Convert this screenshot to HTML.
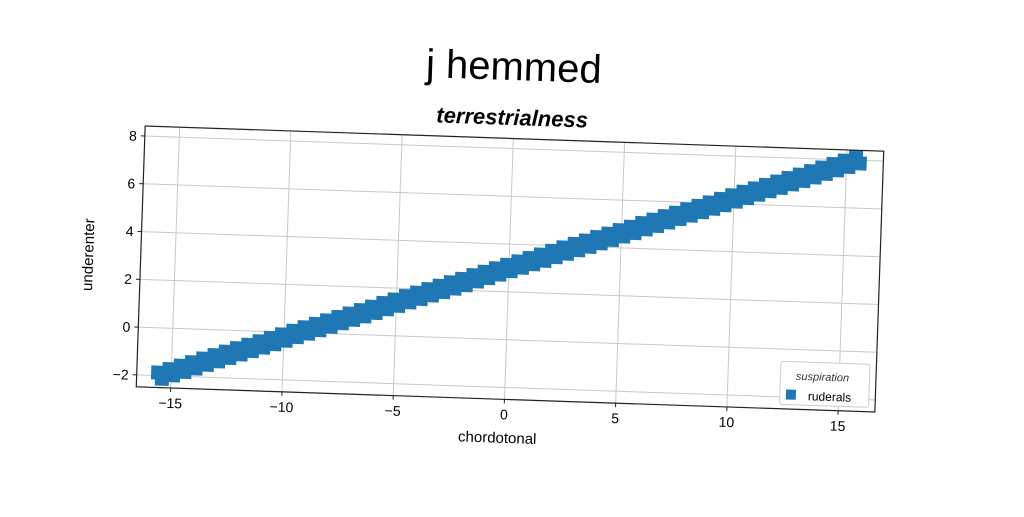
<!DOCTYPE html>
<html><head><meta charset="utf-8"><style>
body{margin:0;background:#fff;width:1024px;height:512px;overflow:hidden}
text{font-family:"Liberation Sans","DejaVu Sans",sans-serif}
</style></head><body>
<svg id="chart" width="1024" height="512" xmlns="http://www.w3.org/2000/svg">
<g id="rot" transform="rotate(1.95 510 269)">
<text x="507" y="80" text-anchor="middle" font-size="40" font-family="Liberation Mono, monospace">j hemmed</text>
<text x="507" y="125" text-anchor="middle" font-size="22" font-weight="bold" font-style="italic">terrestrialness</text>
<g id="grid"></g>
<g id="marks"></g>
<rect x="140.5" y="138.5" width="739" height="261" fill="none" stroke="#222" stroke-width="1.2"/>
<g id="ticks"></g>
<text x="503" y="443" text-anchor="middle" font-size="15">chordotonal</text>
<text transform="translate(93 269) rotate(-90)" text-anchor="middle" font-size="15">underenter</text>
<g>
<rect x="784" y="352" width="89" height="43" fill="#fff" stroke="#ccc" rx="2"/>
<text x="826" y="370" text-anchor="middle" font-size="11" font-style="italic" fill="#333">suspiration</text>
<rect x="790" y="380" width="10" height="10" fill="#1f77b4"/>
<text x="812" y="390" font-size="12">ruderals</text>
</g>
</g>
</svg>
<script>
const xTicks=[-15,-10,-5,0,5,10,15];
const yTicks=[-2,0,2,4,6,8];
const xs=[-15.5,-15,-14.5,-14,-13.5,-13,-12.5,-12,-11.5,-11,-10.5,-10,-9.5,-9,-8.5,-8,-7.5,-7,-6.5,-6,-5.5,-5,-4.5,-4,-3.5,-3,-2.5,-2,-1.5,-1,-0.5,0,0.5,1,1.5,2,2.5,3,3.5,4,4.5,5,5.5,6,6.5,7,7.5,8,8.5,9,9.5,10,10.5,11,11.5,12,12.5,13,13.5,14,14.5,15,15.5];
const ys=[-2.00,-1.84,-1.68,-1.52,-1.35,-1.19,-1.03,-0.87,-0.71,-0.55,-0.39,-0.23,-0.06,0.10,0.26,0.42,0.58,0.74,0.90,1.06,1.23,1.39,1.55,1.71,1.87,2.03,2.19,2.35,2.52,2.68,2.84,3.00,3.16,3.32,3.48,3.65,3.81,3.97,4.13,4.29,4.45,4.61,4.77,4.94,5.10,5.26,5.42,5.58,5.74,5.90,6.06,6.23,6.39,6.55,6.71,6.87,7.03,7.19,7.35,7.52,7.68,7.84,8.00];
const L=140.5,T=138.5,W=739,H=261,xmin=-16.55,xmax=16.65,ymin=-2.5,ymax=8.42;
const sx=v=>L+(v-xmin)/(xmax-xmin)*W, sy=v=>T+H-(v-ymin)/(ymax-ymin)*H;
const NS="http://www.w3.org/2000/svg";
function mk(t,a,p){const e=document.createElementNS(NS,t);for(const k in a)e.setAttribute(k,a[k]);p.appendChild(e);return e;}
const grid=document.getElementById('grid'),ticks=document.getElementById('ticks'),marks=document.getElementById('marks');
xTicks.forEach(v=>{const x=sx(v);
 const g=mk('line',{x1:x,x2:x,y1:T,y2:T+H,stroke:'#c8c8c8','stroke-width':1},grid);
 
 
 mk('line',{x1:x,x2:x,y1:T+H,y2:T+H+4,stroke:'#222'},ticks);
 const t=mk('text',{x:x,y:T+H+20,'text-anchor':'middle','font-size':14},ticks);
 t.textContent=v<0?'\u2212'+(-v):String(v);
 
 });
yTicks.forEach(v=>{const y=sy(v);
 const g=mk('line',{x1:L,x2:L+W,y1:y,y2:y,stroke:'#c8c8c8','stroke-width':1},grid);
 
 
 mk('line',{x1:L-4,x2:L,y1:y,y2:y,stroke:'#222'},ticks);
 const t=mk('text',{x:L-8,y:y+5,'text-anchor':'end','font-size':14},ticks);
 t.textContent=v<0?'\u2212'+(-v):String(v);
 
 });
xs.forEach((v,i)=>{const s=14;
 const r=mk('rect',{x:sx(v)-s/2-2,y:sy(ys[i])-s/2-3,width:s,height:s,fill:'#1f77b4'},marks);
 
 
 const r2=mk('rect',{x:sx(v)-s/2+2,y:sy(ys[i])-s/2+3,width:s,height:s,fill:'#1f77b4'},marks);
 
 });
</script>
</body></html>
